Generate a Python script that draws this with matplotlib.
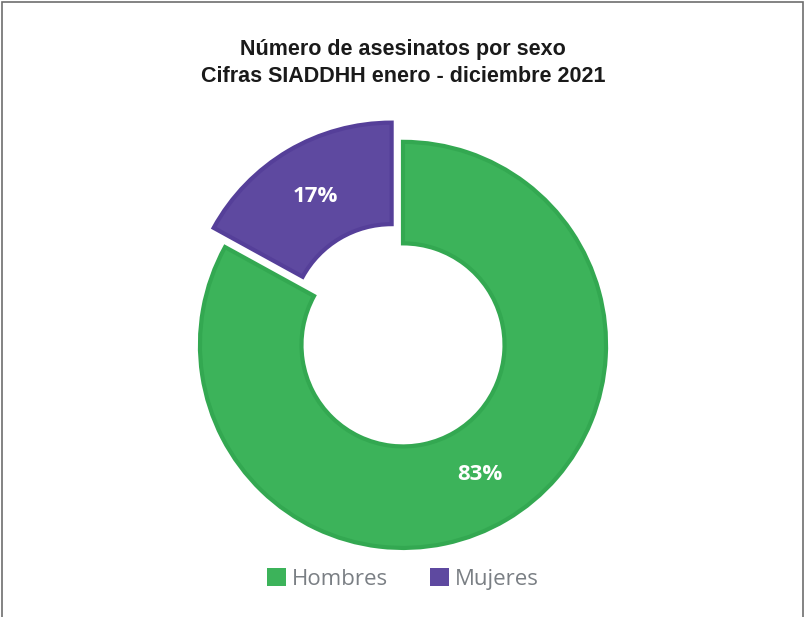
import matplotlib.pyplot as plt
from matplotlib.patches import Rectangle

labels = ["Hombres", "Mujeres"]
values = [83, 17]
colors = ["#3cb35a", "#5e49a0"]
edge_colors = ["#33a851", "#553f99"]

title_lines = ["Número de asesinatos por sexo", "Cifras SIADDHH enero - diciembre 2021"]

fig = plt.figure(figsize=(8.06, 6.17), dpi=100)

# marco gris
fig.patches.append(Rectangle((0.003, -0.1), 0.993, 1.097, transform=fig.transFigure,
                             fill=False, edgecolor="#6e6e6e", linewidth=1.2))

ax = fig.add_axes([0.1725, 0.013, 0.655, 0.856])
wedges, texts, autotexts = ax.pie(
    values, colors=colors, startangle=90, counterclock=False,
    explode=[0, 0.11], autopct="%d%%", pctdistance=0.74,
    wedgeprops=dict(width=0.5, linewidth=0))
for w, ec in zip(wedges, edge_colors):
    w.set_edgecolor(ec)
    w.set_linewidth(3)
for t in autotexts:
    t.set_color("white")
    t.set_fontsize(16)
    t.set_fontweight("bold")
    t.set_fontfamily("Open Sans")
ax.set_xlim(-1.3, 1.3)
ax.set_ylim(-1.3, 1.3)
ax.set_aspect("equal")
ax.axis("off")

fig.text(0.5, 1 - 49 / 617, title_lines[0], ha="center", va="center",
         fontsize=15.5, fontweight="bold", family="Liberation Sans", color="#1a1a1a")
fig.text(0.5, 1 - 76 / 617, title_lines[1], ha="center", va="center",
         fontsize=15.5, fontweight="bold", family="Liberation Sans", color="#1a1a1a")

leg = fig.legend(wedges, labels, loc="center", bbox_to_anchor=(0.5, 1 - 579 / 617),
                 ncol=2, frameon=False, handlelength=0.85, handleheight=0.85,
                 handletextpad=0.25, columnspacing=1.9,
                 prop={"family": "Open Sans", "size": 16})
for t in leg.get_texts():
    t.set_color("#7a7f84")
for h, c in zip(leg.legend_handles, colors):
    h.set_edgecolor(c)
    h.set_linewidth(0)

fig.savefig("out.png", dpi=100)
